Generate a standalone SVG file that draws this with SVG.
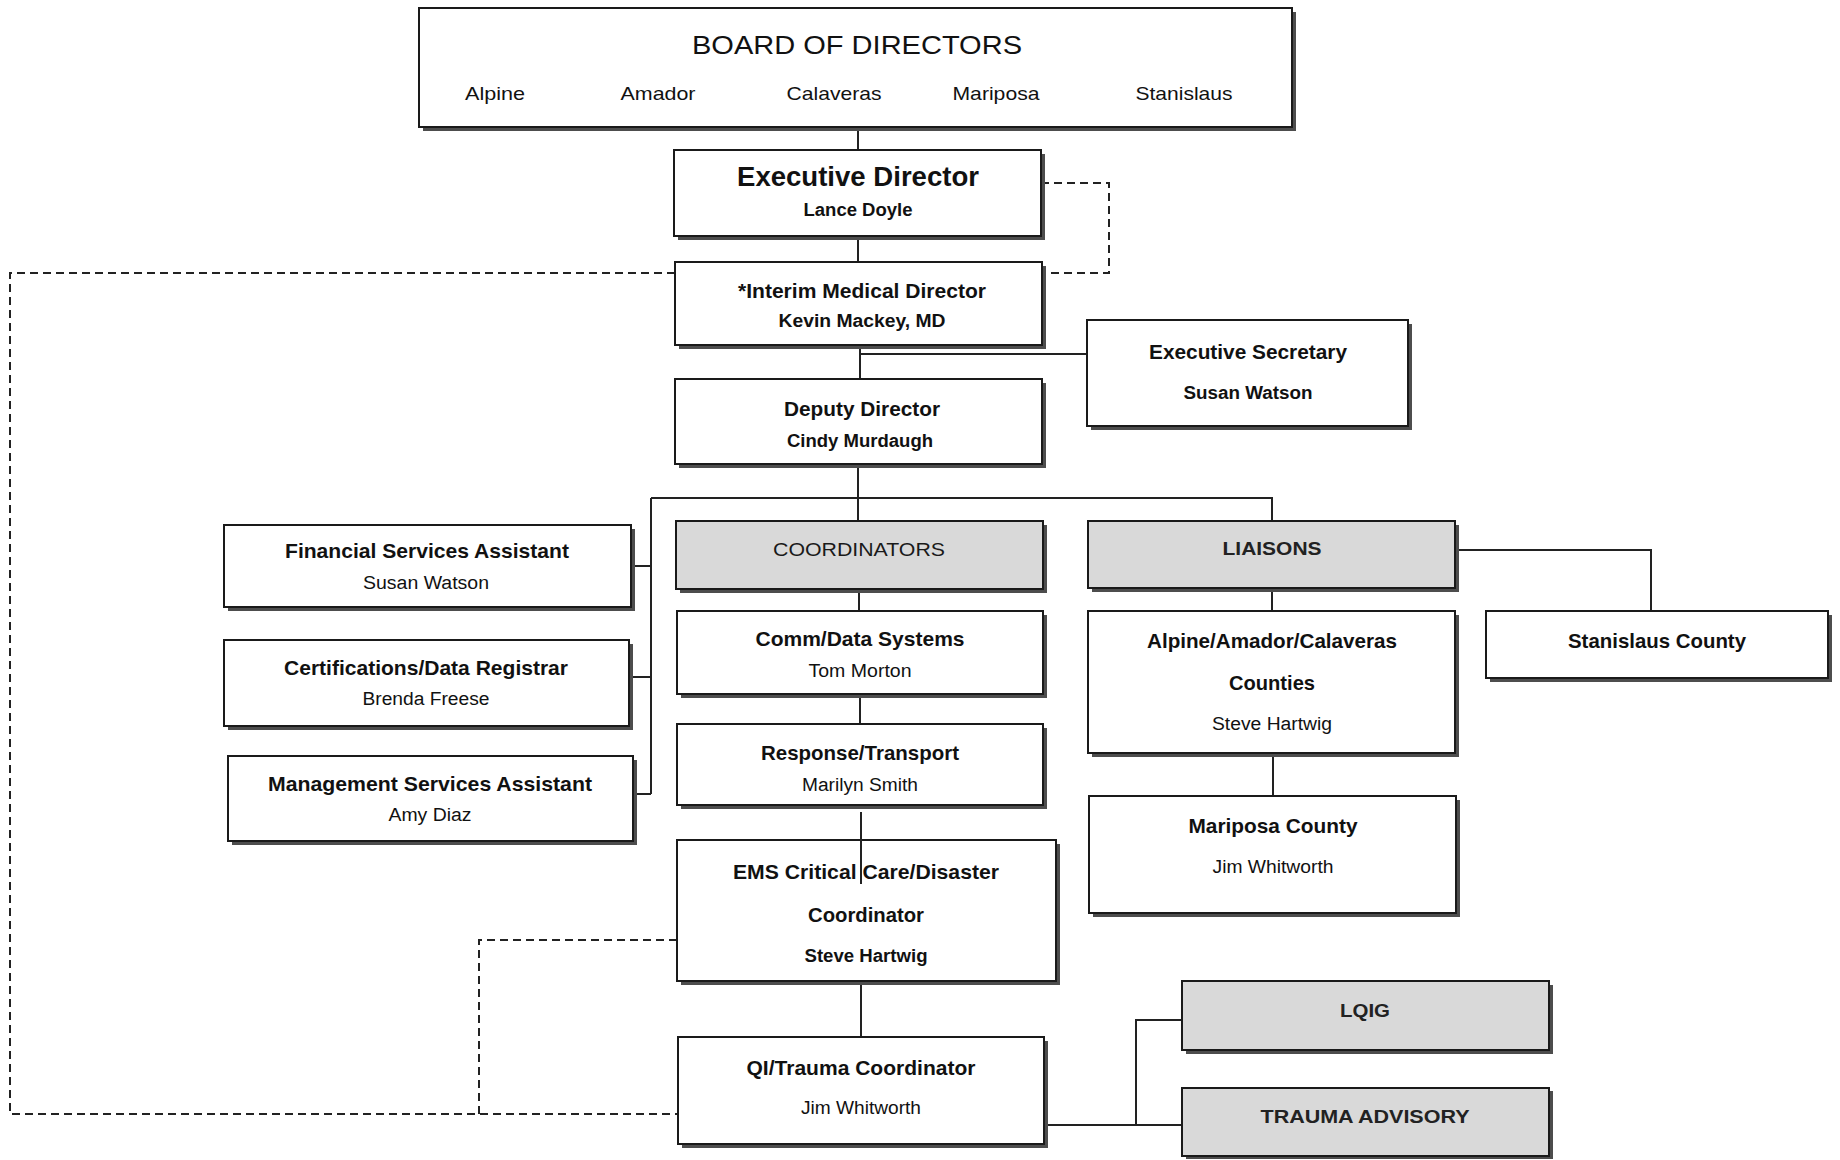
<svg xmlns="http://www.w3.org/2000/svg" width="1840" height="1160" viewBox="0 0 1840 1160">
<style>
.bg{fill:#fff}
.sh{fill:#4d4d4d}
.box{fill:#fff;stroke:#1a1a1a;stroke-width:2}
.gray{fill:#d9d9d9;stroke:#1a1a1a;stroke-width:2}
.ln{fill:none;stroke:#222;stroke-width:2}
.dash{fill:none;stroke:#222;stroke-width:2;stroke-dasharray:8 5}
text{font-family:"Liberation Sans",Arial,sans-serif;text-anchor:middle;fill:#111}
.t{font-size:21px;font-weight:bold}
.n{font-size:18px}
.nb{font-size:18px;font-weight:bold}
.cap{font-size:19px;font-weight:bold;fill:#222}
</style>
<rect class="bg" x="0" y="0" width="1840" height="1160"/>
<g id="connectors">
<path class="ln" d="M858 127V150"/>
<path class="ln" d="M858 236V262"/>
<path class="ln" d="M860 345V379M860 354H1087"/>
<path class="ln" d="M858 464V498M651 498H1272V521M858 498V521"/>
<path class="ln" d="M651 498V794M631 566H651M629 677H651M633 794H651"/>
<path class="ln" d="M859 589V611"/>
<path class="ln" d="M860 694V724"/>
<path class="ln" d="M861 981V1037"/>
<path class="ln" d="M1044 1125H1182M1136 1125V1020H1182"/>
<path class="ln" d="M1455 550H1651V611"/>
<path class="ln" d="M1272 588V611"/>
<path class="ln" d="M1273 753V796"/>
<path class="dash" d="M1041 183H1109V273H1042"/>
<path class="dash" d="M675 273H10V1114H678"/>
<path class="dash" d="M677 940H479V1114"/>
</g>
<g id="board">
<rect class="sh" x="423" y="12" width="873" height="119"/>
<rect class="box" x="419" y="8" width="873" height="119"/>
<text x="857" y="54" style="font-size:26px" textLength="330" lengthAdjust="spacingAndGlyphs">BOARD OF DIRECTORS</text>
<text x="495" y="100" style="font-size:19px" textLength="60" lengthAdjust="spacingAndGlyphs">Alpine</text>
<text x="658" y="100" style="font-size:19px" textLength="75" lengthAdjust="spacingAndGlyphs">Amador</text>
<text x="834" y="100" style="font-size:19px" textLength="95" lengthAdjust="spacingAndGlyphs">Calaveras</text>
<text x="996" y="100" style="font-size:19px" textLength="87" lengthAdjust="spacingAndGlyphs">Mariposa</text>
<text x="1184" y="100" style="font-size:19px" textLength="97" lengthAdjust="spacingAndGlyphs">Stanislaus</text>
</g>
<g id="executive-director">
<rect class="sh" x="678" y="154" width="367" height="86"/>
<rect class="box" x="674" y="150" width="367" height="86"/>
<text x="858" y="186" style="font-size:28px;font-weight:bold" textLength="242" lengthAdjust="spacingAndGlyphs">Executive Director</text>
<text class="nb" x="858" y="216" textLength="109" lengthAdjust="spacingAndGlyphs">Lance Doyle</text>
</g>
<g id="interim-medical-director">
<rect class="sh" x="679" y="266" width="367" height="83"/>
<rect class="box" x="675" y="262" width="367" height="83"/>
<text class="t" x="862" y="298" textLength="248" lengthAdjust="spacingAndGlyphs">*Interim Medical Director</text>
<text class="nb" x="862" y="327" textLength="167" lengthAdjust="spacingAndGlyphs">Kevin Mackey, MD</text>
</g>
<g id="executive-secretary">
<rect class="sh" x="1091" y="324" width="321" height="106"/>
<rect class="box" x="1087" y="320" width="321" height="106"/>
<text class="t" x="1248" y="359" textLength="198" lengthAdjust="spacingAndGlyphs">Executive Secretary</text>
<text class="nb" x="1248" y="399" textLength="129" lengthAdjust="spacingAndGlyphs">Susan Watson</text>
</g>
<g id="deputy-director">
<rect class="sh" x="679" y="383" width="367" height="85"/>
<rect class="box" x="675" y="379" width="367" height="85"/>
<text class="t" x="862" y="416" textLength="156" lengthAdjust="spacingAndGlyphs">Deputy Director</text>
<text class="nb" x="860" y="447" textLength="146" lengthAdjust="spacingAndGlyphs">Cindy Murdaugh</text>
</g>
<g id="financial-services">
<rect class="sh" x="228" y="529" width="407" height="82"/>
<rect class="box" x="224" y="525" width="407" height="82"/>
<text class="t" x="427" y="558" textLength="284" lengthAdjust="spacingAndGlyphs">Financial Services Assistant</text>
<text class="n" x="426" y="589" textLength="126" lengthAdjust="spacingAndGlyphs">Susan Watson</text>
</g>
<g id="certifications">
<rect class="sh" x="228" y="644" width="405" height="86"/>
<rect class="box" x="224" y="640" width="405" height="86"/>
<text class="t" x="426" y="675" textLength="284" lengthAdjust="spacingAndGlyphs">Certifications/Data Registrar</text>
<text class="n" x="426" y="705" textLength="127" lengthAdjust="spacingAndGlyphs">Brenda Freese</text>
</g>
<g id="management-services">
<rect class="sh" x="232" y="760" width="405" height="85"/>
<rect class="box" x="228" y="756" width="405" height="85"/>
<text class="t" x="430" y="791" textLength="324" lengthAdjust="spacingAndGlyphs">Management Services Assistant</text>
<text class="n" x="430" y="821" textLength="83" lengthAdjust="spacingAndGlyphs">Amy Diaz</text>
</g>
<g id="coordinators">
<rect class="sh" x="680" y="525" width="367" height="68"/>
<rect class="gray" x="676" y="521" width="367" height="68"/>
<text class="cap" x="859" y="556" style="font-weight:normal;fill:#1a1a1a" textLength="172" lengthAdjust="spacingAndGlyphs">COORDINATORS</text>
</g>
<g id="liaisons">
<rect class="sh" x="1092" y="525" width="367" height="67"/>
<rect class="gray" x="1088" y="521" width="367" height="67"/>
<text class="cap" x="1272" y="555" textLength="99" lengthAdjust="spacingAndGlyphs">LIAISONS</text>
</g>
<g id="comm-data">
<rect class="sh" x="681" y="615" width="366" height="83"/>
<rect class="box" x="677" y="611" width="366" height="83"/>
<text class="t" x="860" y="646" textLength="209" lengthAdjust="spacingAndGlyphs">Comm/Data Systems</text>
<text class="n" x="860" y="677" textLength="103" lengthAdjust="spacingAndGlyphs">Tom Morton</text>
</g>
<g id="response-transport">
<rect class="sh" x="681" y="728" width="366" height="81"/>
<rect class="box" x="677" y="724" width="366" height="81"/>
<text class="t" x="860" y="760" textLength="198" lengthAdjust="spacingAndGlyphs">Response/Transport</text>
<text class="n" x="860" y="791" textLength="116" lengthAdjust="spacingAndGlyphs">Marilyn Smith</text>
</g>
<g id="ems-critical-care">
<rect class="sh" x="681" y="844" width="379" height="141"/>
<rect class="box" x="677" y="840" width="379" height="141"/>
<text class="t" x="866" y="879" textLength="266" lengthAdjust="spacingAndGlyphs">EMS Critical Care/Disaster</text>
<text class="t" x="866" y="922" textLength="116" lengthAdjust="spacingAndGlyphs">Coordinator</text>
<text class="nb" x="866" y="962" textLength="123" lengthAdjust="spacingAndGlyphs">Steve Hartwig</text>
</g>
<path class="ln" d="M861 812V884"/>
<g id="qi-trauma">
<rect class="sh" x="682" y="1041" width="366" height="107"/>
<rect class="box" x="678" y="1037" width="366" height="107"/>
<text class="t" x="861" y="1075" textLength="229" lengthAdjust="spacingAndGlyphs">QI/Trauma Coordinator</text>
<text class="n" x="861" y="1114" textLength="120" lengthAdjust="spacingAndGlyphs">Jim Whitworth</text>
</g>
<g id="alpine-amador-calaveras">
<rect class="sh" x="1092" y="615" width="367" height="142"/>
<rect class="box" x="1088" y="611" width="367" height="142"/>
<text class="t" x="1272" y="648" textLength="250" lengthAdjust="spacingAndGlyphs">Alpine/Amador/Calaveras</text>
<text class="t" x="1272" y="690" textLength="86" lengthAdjust="spacingAndGlyphs">Counties</text>
<text class="n" x="1272" y="730" textLength="120" lengthAdjust="spacingAndGlyphs">Steve Hartwig</text>
</g>
<g id="mariposa-county">
<rect class="sh" x="1093" y="800" width="367" height="117"/>
<rect class="box" x="1089" y="796" width="367" height="117"/>
<text class="t" x="1273" y="833" textLength="169" lengthAdjust="spacingAndGlyphs">Mariposa County</text>
<text class="n" x="1273" y="873" textLength="121" lengthAdjust="spacingAndGlyphs">Jim Whitworth</text>
</g>
<g id="stanislaus-county">
<rect class="sh" x="1490" y="615" width="342" height="67"/>
<rect class="box" x="1486" y="611" width="342" height="67"/>
<text class="t" x="1657" y="648" textLength="178" lengthAdjust="spacingAndGlyphs">Stanislaus County</text>
</g>
<g id="lqig">
<rect class="sh" x="1186" y="985" width="367" height="69"/>
<rect class="gray" x="1182" y="981" width="367" height="69"/>
<text class="cap" x="1365" y="1017" textLength="50" lengthAdjust="spacingAndGlyphs">LQIG</text>
</g>
<g id="trauma-advisory">
<rect class="sh" x="1186" y="1091" width="367" height="68"/>
<rect class="gray" x="1182" y="1088" width="367" height="68"/>
<text class="cap" x="1365" y="1123" textLength="209" lengthAdjust="spacingAndGlyphs">TRAUMA ADVISORY</text>
</g>
</svg>
